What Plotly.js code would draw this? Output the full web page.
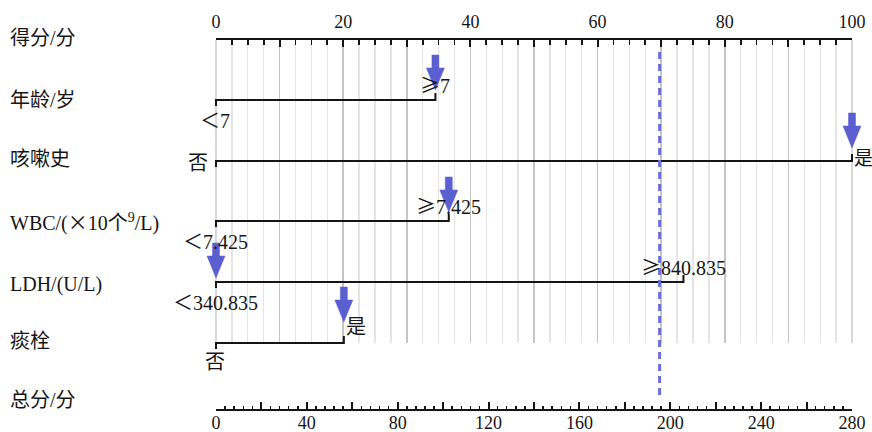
<!DOCTYPE html>
<html><head><meta charset="utf-8">
<script src="https://cdn.plot.ly/plotly-3.0.1.min.js"></script>
<style>html,body{margin:0;padding:0;background:#fff}#chart{width:872px;height:432px}</style>
</head><body><div id="chart"></div>
<script>
// ---------------- data ----------------
const rowLabels = ['得分/分','年龄/岁','咳嗽史','WBC/(<span style="font-family:Noto Sans CJK SC">×</span>10个<sup>9</sup>/L)','LDH/(U/L)','痰栓','总分/分'];
const factorNames = ['年龄/岁','咳嗽史','WBC','LDH','痰栓'];
const lowLevelLabels = ['＜7','否','＜7.425','＜340.835','否'];
const highLevelLabels = ['≥7','是','≥7.425','≥840.835','是'];
const highLevelPoints = [34.5, 100, 36.6, 73.5, 20.1];
const selectedPoints = [34.5, 100, 36.6, 0, 20.1];
const totalPointsValue = 195.3;
const pointsTickVals = [0,10,20,30,40,50,60,70,80,90,100];
const pointsTickText = ['0','','20','','40','','60','','80','','100'];
const totalTickVals = [0,20,40,60,80,100,120,140,160,180,200,220,240,260,280];
const totalTickText = ['0','','40','','80','','120','','160','','200','','240','','280'];

// ---------------- layout / style ----------------
const W = 872, H = 432, X0 = 216, X1 = 852;
const pxPerPoint = (X1 - X0) / 100;
const rowY = [40, 100, 161, 221, 282, 343, 410];
const labelY = [38, 100, 159, 222, 284, 341, 400];
const gridBottom = 343;
const lowPos = ['below','left','below','below','below'];
const highPos = ['above','right','above','above','aboveRight'];
const arrowGap = [10, 13, 9, 4, 21];
const arrowLen = 35, arrowHead = 22, shaftHalf = 3.5, headHalf = 9;
const arrowColor = '#5b5fd0';
const ink = '#151515';
const serif = 'Liberation Serif, Noto Sans CJK SC, serif';
const pf = y => 1 - y / H;
const cjkSpan = s => s.replace(/([≥＜])/g, '<span style="font-family:Noto Sans CJK SC">$1</span>');

const traces = [];
traces.push({x:[null], y:[null], xaxis:'x', yaxis:'y', mode:'markers', hoverinfo:'skip', showlegend:false});
traces.push({x:[null], y:[null], xaxis:'x2', yaxis:'y', mode:'markers', hoverinfo:'skip', showlegend:false});

traces.push({x:[0, 0, null, 100, 100], y:[rowY[0], gridBottom, null, rowY[0], gridBottom], xaxis:'x3', yaxis:'y3',
  mode:'lines', line:{color:'#cfcfcf', width:1.6}, hoverinfo:'skip', showlegend:false});

const bx = [], by = [];
highLevelPoints.forEach((v, i) => {
  const y = rowY[i + 1];
  bx.push(0, 0, v, v, null);
  by.push(y + 6, y, y, y - 7, null);
});
traces.push({x: bx, y: by, xaxis:'x3', yaxis:'y3', mode:'lines',
  line:{color: ink, width: 2}, hoverinfo:'skip', showlegend:false});

selectedPoints.forEach((v, i) => {
  const tip = rowY[i + 1] - arrowGap[i];
  const top = tip - arrowLen, hTop = tip - arrowHead;
  const s = shaftHalf / pxPerPoint, h = headHalf / pxPerPoint;
  traces.push({x:[v - s, v + s, v + s, v + h, v, v - h, v - s, v - s],
    y:[top, top, hTop, hTop, tip, hTop, hTop, top], xaxis:'x3', yaxis:'y3',
    mode:'lines', fill:'toself', fillcolor: arrowColor, line:{color: arrowColor, width:0.5},
    hoverinfo:'skip', showlegend:false});
});

const annotations = [];
rowLabels.forEach((t, i) => {
  annotations.push({text: t, xref:'paper', yref:'paper', x: 8 / W, y: pf(labelY[i]),
    xanchor:'left', yanchor:'middle', showarrow:false,
    font:{family: serif, size: 20, color: ink}});
});
factorNames.forEach((name, i) => {
  const y = rowY[i + 1];
  const v = highLevelPoints[i];
  const lo = {text: cjkSpan(lowLevelLabels[i]), xref:'x3', yref:'y3', x: 0, showarrow:false,
    font:{family: serif, size: 20, color: ink}};
  if (lowPos[i] === 'below') { Object.assign(lo, {y: y + 19, xanchor:'center', yanchor:'middle', xshift:-1}); }
  else { Object.assign(lo, {y: y + 2, xanchor:'right', yanchor:'middle', xshift:-6}); }
  annotations.push(lo);
  const hi = {text: cjkSpan(highLevelLabels[i]), xref:'x3', yref:'y3', x: v, showarrow:false,
    font:{family: serif, size: 20, color: ink}};
  if (highPos[i] === 'above') { Object.assign(hi, {y: y - 16, xanchor:'center', yanchor:'middle'}); }
  else if (highPos[i] === 'right') { Object.assign(hi, {y: y - 3, xanchor:'left', yanchor:'middle', xshift:0, font:{family: serif, size: 19, color: ink}}); }
  else { Object.assign(hi, {y: y - 16, xanchor:'left', yanchor:'middle', xshift:0}); }
  annotations.push(hi);
});

const layout = {
  width: W, height: H,
  margin:{l:0, r:0, t:0, b:0, pad:0},
  paper_bgcolor:'#fff', plot_bgcolor:'rgba(0,0,0,0)',
  showlegend:false,
  xaxis:{domain:[X0 / W, X1 / W], range:[0, 100], side:'top', anchor:'y',
    showline:true, linecolor: ink, linewidth:2, zeroline:false,
    ticks:'inside', ticklen:7, tickwidth:2, tickcolor: ink,
    tickmode:'array', tickvals: pointsTickVals, ticktext: pointsTickText,
    tickfont:{family:'Liberation Serif, serif', size:18, color: ink}, ticklabelstandoff:3,
    showgrid:true, gridcolor:'#c4c4c4', gridwidth:1.6,
    minor:{tickmode:'linear', tick0:0, dtick:2.5, ticks:'inside', ticklen:5, tickwidth:1.6, tickcolor: ink,
      showgrid:true, gridcolor:'#e4e4e4', gridwidth:1.3},
    fixedrange:true},
  yaxis:{domain:[pf(gridBottom), pf(rowY[0])], range:[0, 1], visible:false, fixedrange:true},
  xaxis2:{domain:[X0 / W, X1 / W], range:[0, 280], overlaying:'x', anchor:'free', position: pf(rowY[6]), side:'bottom',
    showline:true, linecolor: ink, linewidth:2, zeroline:false, showgrid:false,
    ticks:'inside', ticklen:7, tickwidth:2, tickcolor: ink,
    tickmode:'array', tickvals: totalTickVals, ticktext: totalTickText,
    tickfont:{family:'Liberation Serif, serif', size:18, color: ink}, ticklabelstandoff:-4,
    minor:{tickmode:'linear', tick0:0, dtick:4, ticks:'inside', ticklen:3.5, tickwidth:1.5, tickcolor: ink, showgrid:false},
    fixedrange:true},
  xaxis3:{domain:[0, 1], range:[-X0 / pxPerPoint, (W - X0) / pxPerPoint], anchor:'y3', visible:false, fixedrange:true},
  yaxis3:{domain:[0, 1], range:[H, 0], anchor:'x3', visible:false, fixedrange:true},
  shapes:[{type:'line', xref:'x2', yref:'paper', x0: totalPointsValue, x1: totalPointsValue,
    y0: pf(395), y1: pf(50), line:{color:'#6a6ed8', width:3, dash:'7px,5px'}, layer:'above'}],
  annotations: annotations
};

Plotly.newPlot('chart', traces, layout, {staticPlot:true, displayModeBar:false});
</script>
</body></html>
